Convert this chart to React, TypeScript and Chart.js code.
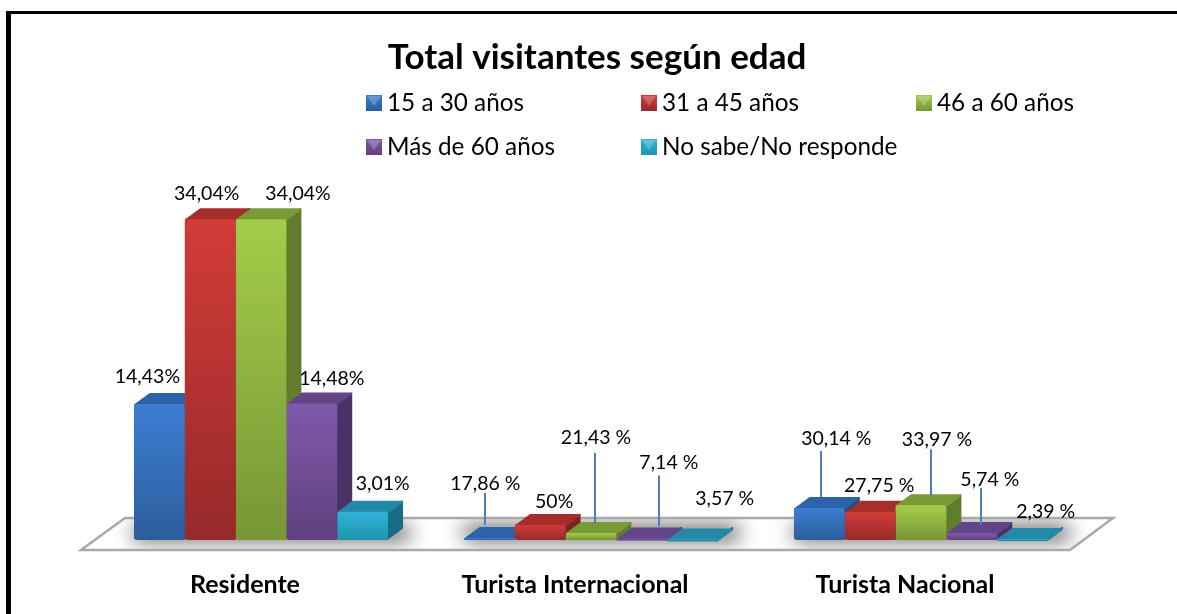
import React, { useEffect, useRef } from "react";
import { Chart, registerables } from "chart.js";

Chart.register(...registerables);

const categories = ["Residente", "Turista Internacional", "Turista Nacional"];
const seriesNames = ["15 a 30 años", "31 a 45 años", "46 a 60 años", "Más de 60 años", "No sabe/No responde"];

// Bar heights as drawn in the picture
const joven = [14.43, 0.2, 3.4];
const adulto = [34.04, 1.6, 3.0];
const maduro = [34.04, 0.75, 3.7];
const mayor = [14.48, 0.15, 0.75];
const noSabe = [3.01, 0.05, 0.1];
const seriesValues = [joven, adulto, maduro, mayor, noSabe];

// Printed labels
const jovenLabels = ["14,43%", "17,86 %", "30,14 %"];
const adultoLabels = ["34,04%", "50%", "27,75 %"];
const maduroLabels = ["34,04%", "21,43 %", "33,97 %"];
const mayorLabels = ["14,48%", "7,14 %", "5,74 %"];
const noSabeLabels = ["3,01%", "3,57 %", "2,39 %"];
const seriesLabels = [jovenLabels, adultoLabels, maduroLabels, mayorLabels, noSabeLabels];

// Styles
const FONT = "Lato, Carlito, Calibri, sans-serif";
const palette = [
  { hi: "#3c7ed2", lo: "#2d5d9b", top: "#2c62a8", side: "#234a7e" },
  { hi: "#d23c38", lo: "#97292a", top: "#a52e2b", side: "#7c2220" },
  { hi: "#a3cd49", lo: "#779636", top: "#7a9a36", side: "#607c2c" },
  { hi: "#8059ab", lo: "#60407f", top: "#644488", side: "#4a3266" },
  { hi: "#2fb4d8", lo: "#2193ae", top: "#2389a6", side: "#1a6c84" },
];

// Label offsets from the bar centre / bar top [series][category]
const labelDx = [[-12, -4, 17], [-3.5, 14, 9], [37, 5, 16], [20, 27, 18], [20, 32, 23]];
const labelDy = [[-27, -54, -69], [-25, -23, -26], [-25, -95, -65], [-25, -76, -53], [-28, -41, -27]];
// Leader lines: series, category, dx, start and end offset from bar top
const leaders = [
  [0, 1, -4, -13, -45],
  [2, 1, 4, -10, -80],
  [3, 1, 17, -12, -63],
  [0, 2, 2, -11, -57],
  [2, 2, 10, -10, -56],
  [3, 2, 9, -8, -45],
];
const DEPTH_X = 15;
const DEPTH_Y = 11;

const legendCols = [366, 641, 916];
const legendRows = [103, 147];

const threeD = {
  id: "threeD",
  beforeDatasetsDraw(chart: any) {
    const { ctx, chartArea } = chart;
    const base = chart.scales.y.getPixelForValue(0);
    const L = chartArea.left, R = chartArea.right;
    const plate = () => {
      ctx.beginPath();
      ctx.moveTo(L - 15, base + 10);
      ctx.lineTo(L + 29, base - 22);
      ctx.lineTo(R + 27, base - 22);
      ctx.lineTo(R - 16, base + 10);
      ctx.closePath();
    };
    ctx.save();
    plate();
    ctx.fillStyle = "#ffffff";
    ctx.fill();

    // soft shadow under each group, the shape itself is kept off the canvas
    ctx.save();
    plate();
    ctx.clip();
    const first = chart.getDatasetMeta(0).data;
    const last = chart.getDatasetMeta(4).data;
    first.forEach((b: any, i: number) => {
      const x0 = b.x - b.width / 2;
      const x1 = last[i].x + last[i].width / 2 + DEPTH_X + 6;
      ctx.shadowColor = "rgba(60,60,60,0.95)";
      ctx.shadowBlur = 20;
      ctx.shadowOffsetX = 3000;
      ctx.fillStyle = "#000";
      ctx.fillRect(x0 - 3000, base - 14, x1 - x0, 14);
    });
    ctx.restore();

    plate();
    ctx.strokeStyle = "#a9a9a9";
    ctx.lineWidth = 2.5;
    ctx.stroke();

    // top and side faces, left to right
    ctx.lineJoin = "round";
    ctx.lineWidth = 2;
    for (let c = 0; c < categories.length; c++) {
      for (let s = 0; s < seriesNames.length; s++) {
        const b: any = chart.getDatasetMeta(s).data[c];
        const x0 = b.x - b.width / 2 + 1, x1 = b.x + b.width / 2 - 1;
        const y = b.y + 1, yb = b.base - 1;
        ctx.fillStyle = ctx.strokeStyle = palette[s].side;
        ctx.beginPath();
        ctx.moveTo(x1, y);
        ctx.lineTo(x1 + DEPTH_X, y - DEPTH_Y);
        ctx.lineTo(x1 + DEPTH_X, yb - DEPTH_Y);
        ctx.lineTo(x1, yb);
        ctx.closePath();
        ctx.fill();
        ctx.stroke();
        ctx.fillStyle = ctx.strokeStyle = palette[s].top;
        ctx.beginPath();
        ctx.moveTo(x0, y);
        ctx.lineTo(x0 + DEPTH_X, y - DEPTH_Y);
        ctx.lineTo(x1 + DEPTH_X, y - DEPTH_Y);
        ctx.lineTo(x1, y);
        ctx.closePath();
        ctx.fill();
        ctx.stroke();
      }
    }
    ctx.restore();
  },
  afterDatasetsDraw(chart: any) {
    const { ctx } = chart;
    ctx.save();
    ctx.strokeStyle = "#4a7ebb";
    ctx.lineWidth = 2;
    leaders.forEach(([s, c, dx, a, b]) => {
      const bar: any = chart.getDatasetMeta(s).data[c];
      const x = Math.round(bar.x + dx);
      ctx.beginPath();
      ctx.moveTo(x, bar.y + a);
      ctx.lineTo(x, bar.y + b);
      ctx.stroke();
    });
    ctx.fillStyle = "#000000";
    ctx.font = `19.5px ${FONT}`;
    ctx.textAlign = "center";
    ctx.textBaseline = "middle";
    seriesLabels.forEach((row, s) => {
      row.forEach((t, c) => {
        const bar: any = chart.getDatasetMeta(s).data[c];
        ctx.fillText(t, bar.x + labelDx[s][c], bar.y + labelDy[s][c]);
      });
    });
    ctx.restore();
  },
  afterDraw(chart: any) {
    const { ctx } = chart;
    ctx.save();
    seriesNames.forEach((name, i) => {
      const x = legendCols[i % 3];
      const yc = legendRows[Math.floor(i / 3)];
      const S = 16;
      const y = yc - S / 2;
      const cx = x + S / 2, cy = y + S / 2;
      const g = ctx.createLinearGradient(0, y, 0, y + S);
      g.addColorStop(0, palette[i].hi);
      g.addColorStop(1, palette[i].lo);
      ctx.fillStyle = g;
      ctx.fillRect(x, y, S, S);
      ctx.fillStyle = "rgba(255,255,255,0.22)";
      ctx.beginPath();
      ctx.moveTo(x + 1, y + 1);
      ctx.lineTo(x + S - 1, y + 1);
      ctx.lineTo(cx, cy + 3);
      ctx.closePath();
      ctx.fill();
      ctx.fillStyle = "#000000";
      ctx.font = `24.3px ${FONT}`;
      ctx.textAlign = "left";
      ctx.textBaseline = "middle";
      ctx.fillText(name, x + S + 5, yc);
    });
    ctx.restore();
  },
};

export default function App() {
  const ref = useRef<HTMLCanvasElement>(null);
  useEffect(() => {
    document.body.style.margin = "0";
    const chart = new Chart(ref.current as HTMLCanvasElement, {
      type: "bar",
      data: {
        labels: categories,
        datasets: seriesNames.map((name, s) => ({
          label: name,
          data: seriesValues[s],
          borderRadius: 3,
          borderSkipped: false,
          barPercentage: 1,
          categoryPercentage: 0.77,
          backgroundColor: (c: any) => {
            const p = palette[s];
            const sc = c.chart.scales?.y;
            if (!sc || c.parsed == null) return p.hi;
            const top = sc.getPixelForValue(c.parsed.y);
            const bot = sc.getPixelForValue(0);
            if (!(bot - top > 0)) return p.hi;
            const g = c.chart.ctx.createLinearGradient(0, top, 0, bot);
            g.addColorStop(0, p.hi);
            g.addColorStop(1, p.lo);
            return g;
          },
        })),
      },
      options: {
        responsive: false,
        animation: false,
        events: [],
        layout: { padding: { left: 96, right: 79, top: 30, bottom: 0 } },
        plugins: {
          legend: { display: false },
          tooltip: { enabled: false },
          title: {
            display: true,
            text: "Total visitantes según edad",
            color: "#000000",
            font: { family: FONT, size: 35, weight: "bold", lineHeight: 1.2 },
            padding: { top: 7, bottom: 84 },
          },
        },
        scales: {
          x: {
            grid: { display: false },
            border: { display: false },
            afterFit: (s: any) => { s.height = 74; },
            ticks: {
              color: "#000000",
              padding: 22,
              labelOffset: -16,
              maxRotation: 0,
              font: { family: FONT, size: 25, weight: "bold" },
            },
          },
          y: {
            position: "right",
            min: 0,
            max: 40,
            grid: { display: false },
            border: { display: false },
            ticks: { display: false },
            afterFit: (s: any) => { s.width = 12; },
          },
        },
      },
      plugins: [threeD],
    } as any);
    return () => chart.destroy();
  }, []);
  return (
    <div
      style={{
        position: "relative",
        width: 1177,
        height: 614,
        overflow: "hidden",
        background: "#ffffff",
      }}
    >
      <div style={{ position: "absolute", left: 6, top: 11, right: 0, height: 3, background: "#000" }} />
      <div style={{ position: "absolute", left: 6, top: 11, bottom: 0, width: 5, background: "#000" }} />
      <canvas ref={ref} width={1177} height={614} style={{ position: "absolute", left: 0, top: 0, display: "block" }} />
    </div>
  );
}
